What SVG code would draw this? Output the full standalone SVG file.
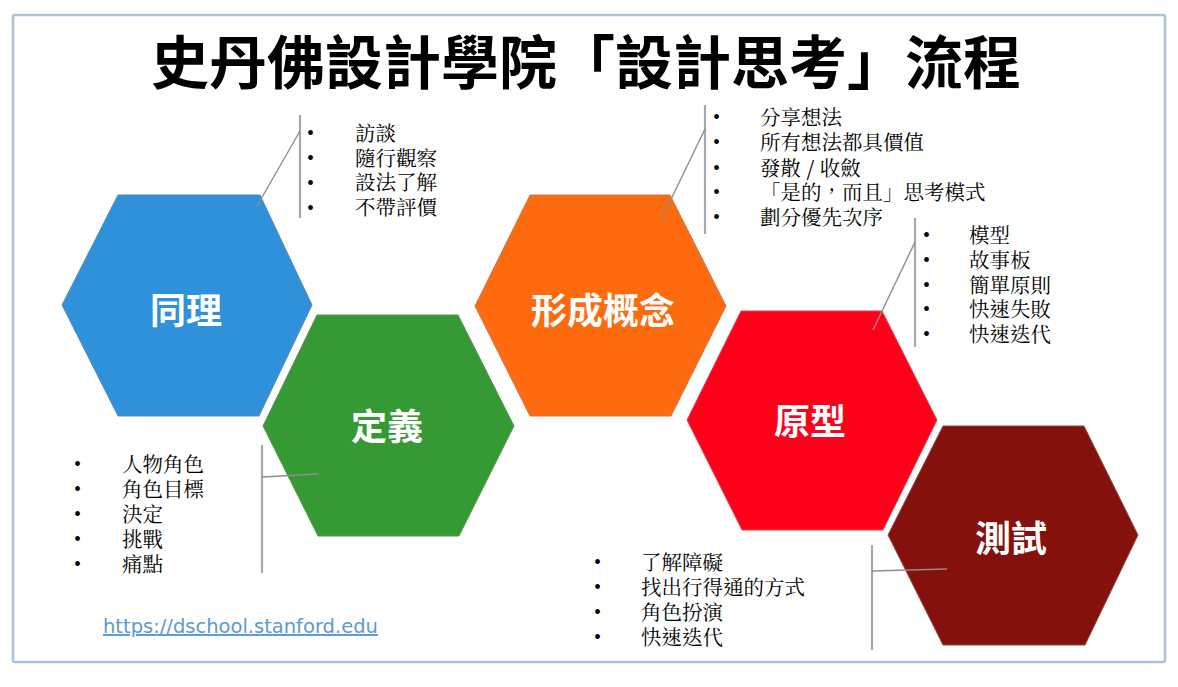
<svg xmlns="http://www.w3.org/2000/svg" width="1178" height="687" viewBox="0 0 1178 687">
<style>
.title{font-family:"Noto Sans CJK TC","Noto Sans CJK SC",sans-serif;font-weight:700;font-size:58px;fill:#000}
.hexlabel{font-family:"Noto Sans CJK TC","Noto Sans CJK SC",sans-serif;font-weight:700;font-size:36px;fill:#fff;text-anchor:middle}
.item{font-family:"Noto Serif CJK TC","Noto Sans CJK TC","Noto Sans CJK SC",serif;font-size:20.5px;fill:#000}
.bul{font-family:"Liberation Serif",serif;font-size:20px;fill:#000}
.vline{stroke:#A8A8A8;stroke-width:2.2;fill:none}
.dline{stroke:#8E8E8E;stroke-width:1.4;fill:none}
.url{font-family:"DejaVu Sans",sans-serif;font-size:19.5px;fill:#5C9AD2;text-decoration:underline}
</style>
<rect width="1178" height="687" fill="#fff"/>
<rect x="13" y="15" width="1152" height="647" rx="2" fill="#fff" stroke="#A9C1DB" stroke-width="2.5"/>
<text class="title" x="151" y="84">史丹佛設計學院「設計思考」流程</text>

<g id="node-empathize">
<polygon points="118,195 260,195 312,305 259,416 118,416 62,305" fill="#2E91D9" stroke="#5A8BB5" stroke-width="1"/>
<text class="hexlabel" x="186" y="324">同理</text>
</g>
<g id="node-define">
<polygon points="317,315 458,315 514,426 459,536 318,536 263,426" fill="#369A34" stroke="#5F8F5A" stroke-width="1"/>
<text class="hexlabel" x="387" y="440">定義</text>
</g>
<g id="node-ideate">
<polygon points="530,195 670,195 726,306 671,416 530,416 475,306" fill="#FE6A0E" stroke="#C9784A" stroke-width="1"/>
<text class="hexlabel" x="603" y="324">形成概念</text>
</g>
<g id="node-prototype">
<polygon points="741,311 882,311 937,420 883,530 742,530 687,420" fill="#FE0019" stroke="#D44A55" stroke-width="1"/>
<text class="hexlabel" x="810" y="435">原型</text>
</g>
<g id="node-test">
<polygon points="943,426 1084,426 1138,535 1085,645 943,645 888,535" fill="#84110B" stroke="#8E4A46" stroke-width="1"/>
<text class="hexlabel" x="1011" y="552">測試</text>
</g>

<g id="connectors">
<line class="vline" x1="300" y1="115" x2="300" y2="218"/>
<line class="dline" x1="300" y1="131" x2="257" y2="206"/>
<line class="vline" x1="705" y1="105" x2="705" y2="234"/>
<line class="dline" x1="705" y1="129" x2="662" y2="218"/>
<line class="vline" x1="915" y1="218" x2="915" y2="347"/>
<line class="dline" x1="915" y1="242" x2="873" y2="330"/>
<line class="vline" x1="262" y1="445" x2="262" y2="573"/>
<line class="dline" x1="262" y1="477" x2="318" y2="474"/>
<line class="vline" x1="872" y1="545" x2="872" y2="650"/>
<line class="dline" x1="872" y1="571" x2="947" y2="569"/>
</g>

<g id="callout-empathize">
<text class="bul" x="307"><tspan x="307" y="140">•</tspan><tspan x="307" y="165">•</tspan><tspan x="307" y="190">•</tspan><tspan x="307" y="215">•</tspan></text>
<text class="item"><tspan x="355" y="141">訪談</tspan><tspan x="355" y="166">隨行觀察</tspan><tspan x="355" y="190">設法了解</tspan><tspan x="355" y="215">不帶評價</tspan></text>
</g>
<g id="callout-ideate">
<text class="bul"><tspan x="713" y="124">•</tspan><tspan x="713" y="149">•</tspan><tspan x="713" y="175">•</tspan><tspan x="713" y="199">•</tspan><tspan x="713" y="224">•</tspan></text>
<text class="item"><tspan x="760" y="125">分享想法</tspan><tspan x="760" y="150">所有想法都具價值</tspan><tspan x="760" y="176">發散 <tspan font-weight="700">/</tspan> 收斂</tspan><tspan x="760" y="200">「是的，而且」思考模式</tspan><tspan x="760" y="225">劃分優先次序</tspan></text>
</g>
<g id="callout-prototype">
<text class="bul"><tspan x="923" y="242">•</tspan><tspan x="923" y="267">•</tspan><tspan x="923" y="292">•</tspan><tspan x="923" y="316">•</tspan><tspan x="923" y="341">•</tspan></text>
<text class="item"><tspan x="969" y="243">模型</tspan><tspan x="969" y="268">故事板</tspan><tspan x="969" y="293">簡單原則</tspan><tspan x="969" y="317">快速失敗</tspan><tspan x="969" y="342">快速迭代</tspan></text>
</g>
<g id="callout-define">
<text class="bul"><tspan x="74" y="471">•</tspan><tspan x="74" y="496">•</tspan><tspan x="74" y="521">•</tspan><tspan x="74" y="546">•</tspan><tspan x="74" y="571">•</tspan></text>
<text class="item"><tspan x="122" y="472">人物角色</tspan><tspan x="122" y="497">角色目標</tspan><tspan x="122" y="522">決定</tspan><tspan x="122" y="547">挑戰</tspan><tspan x="122" y="572">痛點</tspan></text>
</g>
<g id="callout-test">
<text class="bul"><tspan x="594" y="569">•</tspan><tspan x="594" y="594">•</tspan><tspan x="594" y="619">•</tspan><tspan x="594" y="644">•</tspan></text>
<text class="item"><tspan x="641" y="570">了解障礙</tspan><tspan x="641" y="595">找出行得通的方式</tspan><tspan x="641" y="620">角色扮演</tspan><tspan x="641" y="645">快速迭代</tspan></text>
</g>

<text class="url" x="103" y="633">https://dschool.stanford.edu</text>
</svg>
